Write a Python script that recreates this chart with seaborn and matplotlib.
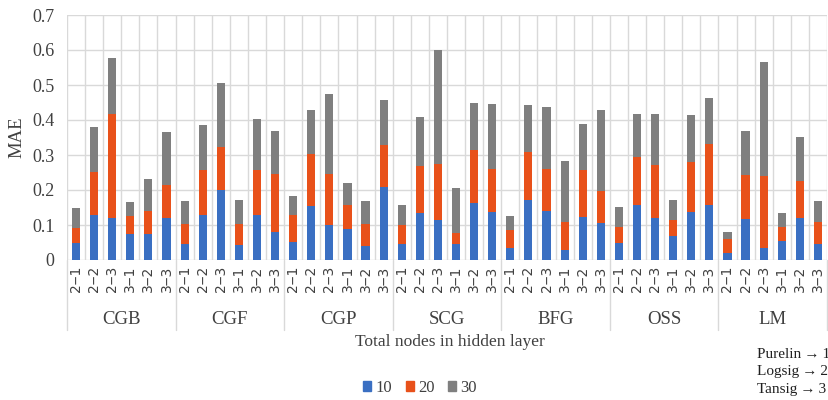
import numpy as np
import pandas as pd
import matplotlib
matplotlib.use("Agg")
import matplotlib.pyplot as plt
import matplotlib.transforms as mtransforms
import seaborn as sns

groups = ["CGB", "CGF", "CGP", "SCG", "BFG", "OSS", "LM"]
subcats = ["2\u20121", "2\u20122", "2\u20123", "3\u20121", "3\u20122", "3\u20123"]
series_names = ["10", "20", "30"]

vals_10 = [0.048, 0.128, 0.121, 0.075, 0.075, 0.119,
           0.045, 0.128, 0.199, 0.043, 0.130, 0.079,
           0.051, 0.154, 0.099, 0.088, 0.040, 0.210,
           0.045, 0.135, 0.113, 0.045, 0.162, 0.137,
           0.035, 0.172, 0.139, 0.030, 0.122, 0.105,
           0.049, 0.156, 0.121, 0.070, 0.137, 0.158,
           0.020, 0.118, 0.035, 0.054, 0.121, 0.045]
vals_20 = [0.044, 0.123, 0.296, 0.051, 0.065, 0.096,
           0.057, 0.130, 0.124, 0.059, 0.128, 0.168,
           0.079, 0.150, 0.148, 0.068, 0.064, 0.120,
           0.054, 0.133, 0.162, 0.033, 0.153, 0.123,
           0.051, 0.138, 0.121, 0.079, 0.136, 0.091,
           0.044, 0.137, 0.150, 0.043, 0.144, 0.173,
           0.039, 0.126, 0.204, 0.039, 0.106, 0.065]
vals_30 = [0.056, 0.128, 0.161, 0.039, 0.091, 0.152,
           0.068, 0.128, 0.182, 0.070, 0.145, 0.122,
           0.054, 0.126, 0.226, 0.064, 0.064, 0.127,
           0.059, 0.140, 0.326, 0.127, 0.133, 0.185,
           0.041, 0.132, 0.177, 0.174, 0.130, 0.234,
           0.059, 0.125, 0.147, 0.058, 0.132, 0.133,
           0.020, 0.125, 0.327, 0.041, 0.125, 0.058]

colors = ["#3a6fc2", "#e8511a", "#7f7f7f"]

keys = [f"{g}|{s}" for g in groups for s in subcats]
c1 = np.array(vals_10)
c2 = c1 + np.array(vals_20)
c3 = c2 + np.array(vals_30)
df = pd.DataFrame({"key": keys, "c1": c1, "c2": c2, "c3": c3})

sns.set_theme(style="white")
plt.rcParams["font.family"] = ["Liberation Serif", "DejaVu Serif"]

fig = plt.figure(figsize=(8.29, 4.0), dpi=100)
ax = fig.add_axes([67/829, 1-260/400, (827-67)/829, (260-15)/400])

for col, colr in zip(["c3", "c2", "c1"], colors[::-1]):
    sns.barplot(data=df, x="key", y=col, order=keys, color=colr,
                width=0.45, saturation=1, ax=ax, zorder=3, edgecolor="none")

n = len(keys)
ax.set_xlim(-0.5, n - 0.5)
ax.set_ylim(0, 0.7)
ax.set_yticks(np.arange(0, 0.71, 0.1))
ax.set_yticklabels(["0", "0.1", "0.2", "0.3", "0.4", "0.5", "0.6", "0.7"],
                   fontsize=13, color="#404040")
ax.tick_params(axis="y", length=0, pad=9)
ax.yaxis.grid(True, color="#d9d9d9", lw=1, zorder=0)
for xb in np.arange(-0.5, n, 1.0):
    ax.axvline(xb, color="#d9d9d9", lw=1, zorder=0)
for sp in ax.spines.values():
    sp.set_visible(False)

ax.set_xticks(range(n))
ax.set_xticklabels([s for g in groups for s in subcats], rotation=90,
                   fontsize=10, color="#404040", family=["DejaVu Sans"])
ax.tick_params(axis="x", length=0, pad=4)
ax.set_xlabel("")
ax.set_ylabel("MAE", fontsize=13.5, color="#404040", labelpad=5)

trans = mtransforms.blended_transform_factory(ax.transData, fig.transFigure)
for i, g in enumerate(groups):
    xl = i * 6 - 0.5
    ax.plot([xl, xl], [1-260/400, 1-330/400], transform=trans, color="#d9d9d9",
            lw=1, clip_on=False)
    ax.text(i * 6 + 2.5, 1-320/400, g, transform=trans, ha="center", va="center",
            fontsize=13.5, color="#404040")
ax.plot([n-0.5, n-0.5], [1-260/400, 1-330/400], transform=trans, color="#d9d9d9",
        lw=1, clip_on=False)

fig.text(450/829, 1-342/400, "Total nodes in hidden layer", ha="center", va="center",
         fontsize=12.5, color="#404040")

handles = [plt.Rectangle((0, 0), 1, 1, color=c) for c in colors]
fig.legend(handles, series_names, loc="center", bbox_to_anchor=(420/829, 1-388/400),
           ncol=3, frameon=False, fontsize=12, handlelength=0.5, handleheight=0.5,
           handletextpad=0.25, columnspacing=0.8, labelcolor="#404040")

for j, t in enumerate(["Purelin\u2009\u2192\u20091", "Logsig\u2009\u2192\u20092", "Tansig\u2009\u2192\u20093"]):
    fig.text(757/829, 1-(355 + 17*j)/400, t, ha="left", va="center",
             fontsize=11, color="#202020")

fig.savefig("out.png", dpi=100)
